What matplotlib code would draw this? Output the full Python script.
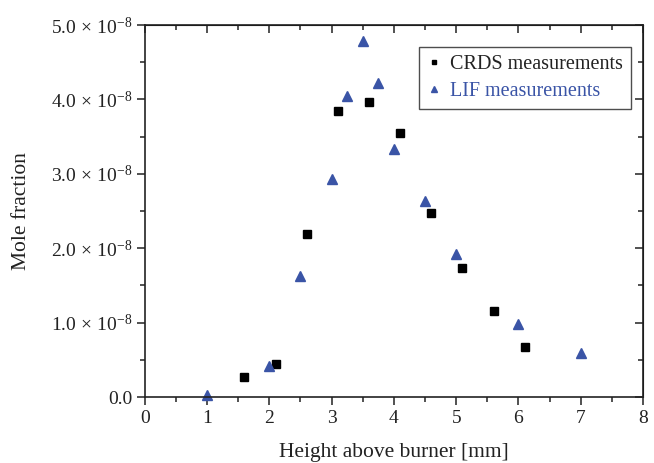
import numpy as np
import matplotlib.pyplot as plt
from matplotlib.ticker import MultipleLocator, FuncFormatter

plt.rcParams['font.family'] = 'Liberation Serif'
plt.rcParams['mathtext.fontset'] = 'custom'
plt.rcParams['mathtext.rm'] = 'Liberation Serif'
plt.rcParams['mathtext.it'] = 'Liberation Serif:italic'

# CRDS measurements (height in mm, mole fraction)
crds_h = [1.6, 2.1, 2.6, 3.1, 3.6, 4.1, 4.6, 5.1, 5.6, 6.1]
crds_x = [0.27e-8, 0.44e-8, 2.19e-8, 3.85e-8, 3.97e-8, 3.55e-8, 2.48e-8, 1.74e-8, 1.16e-8, 0.67e-8]

# LIF measurements
lif_h = [1.0, 2.0, 2.5, 3.0, 3.25, 3.5, 3.75, 4.0, 4.5, 5.0, 6.0, 7.0]
lif_x = [0.03e-8, 0.42e-8, 1.62e-8, 2.93e-8, 4.05e-8, 4.78e-8, 4.22e-8, 3.33e-8, 2.63e-8, 1.92e-8, 0.98e-8, 0.59e-8]

blue = '#3a54a6'
ink = '#222222'

fig = plt.figure(figsize=(6.54, 4.63), dpi=100)
ax = fig.add_axes([0.2213, 0.1425, 0.762, 0.8035])

ax.plot(crds_h, crds_x, 's', color='black', ms=6, label='CRDS measurements', clip_on=False)
ax.plot(lif_h, lif_x, '^', color=blue, ms=7.5, label='LIF measurements', clip_on=False)

ax.set_xlim(0, 8)
ax.set_ylim(0, 5e-8)
ax.xaxis.set_major_locator(MultipleLocator(1))
ax.xaxis.set_minor_locator(MultipleLocator(0.5))
ax.yaxis.set_major_locator(MultipleLocator(1e-8))
ax.yaxis.set_minor_locator(MultipleLocator(0.5e-8))

def yfmt(v, pos):
    m = v / 1e-8
    if abs(m) < 1e-9:
        return '0.0'
    return r'$%.1f\,\times\,10^{-8}$' % m

ax.yaxis.set_major_formatter(FuncFormatter(yfmt))
ax.tick_params(which='major', direction='out', length=6, width=1.1, labelsize=14, colors=ink, pad=3)
ax.tick_params(which='minor', direction='out', length=3.5, width=1.1, colors=ink)
for s in ax.spines.values():
    s.set_linewidth(1.2)
    s.set_color(ink)

# mirrored ticks pointing inward on top and right
top = ax.secondary_xaxis('top')
top.xaxis.set_major_locator(MultipleLocator(1))
top.xaxis.set_minor_locator(MultipleLocator(0.5))
top.tick_params(which='major', direction='in', length=6, width=1.1, labeltop=False, colors=ink)
top.tick_params(which='minor', direction='in', length=3.5, width=1.1, colors=ink)
right = ax.secondary_yaxis('right')
right.yaxis.set_major_locator(MultipleLocator(1e-8))
right.yaxis.set_minor_locator(MultipleLocator(0.5e-8))
right.tick_params(which='major', direction='in', length=6, width=1.1, labelright=False, colors=ink)
right.tick_params(which='minor', direction='in', length=3.5, width=1.1, colors=ink)

ax.set_xlabel('Height above burner [mm]', fontsize=15.5, color=ink, labelpad=12)
ax.set_ylabel('Mole fraction', fontsize=15.5, color=ink, labelpad=14)

leg = ax.legend(loc='upper right', bbox_to_anchor=(0.987, 0.958), fontsize=14.5,
                frameon=True, fancybox=False, edgecolor=ink, markerscale=0.6,
                handlelength=0.6, handletextpad=0.5, borderpad=0.4, labelspacing=0.4,
                borderaxespad=0.3)
leg.get_frame().set_linewidth(1.0)
leg.get_texts()[0].set_color(ink)
leg.get_texts()[1].set_color(blue)

fig.savefig('out.png', dpi=100)
